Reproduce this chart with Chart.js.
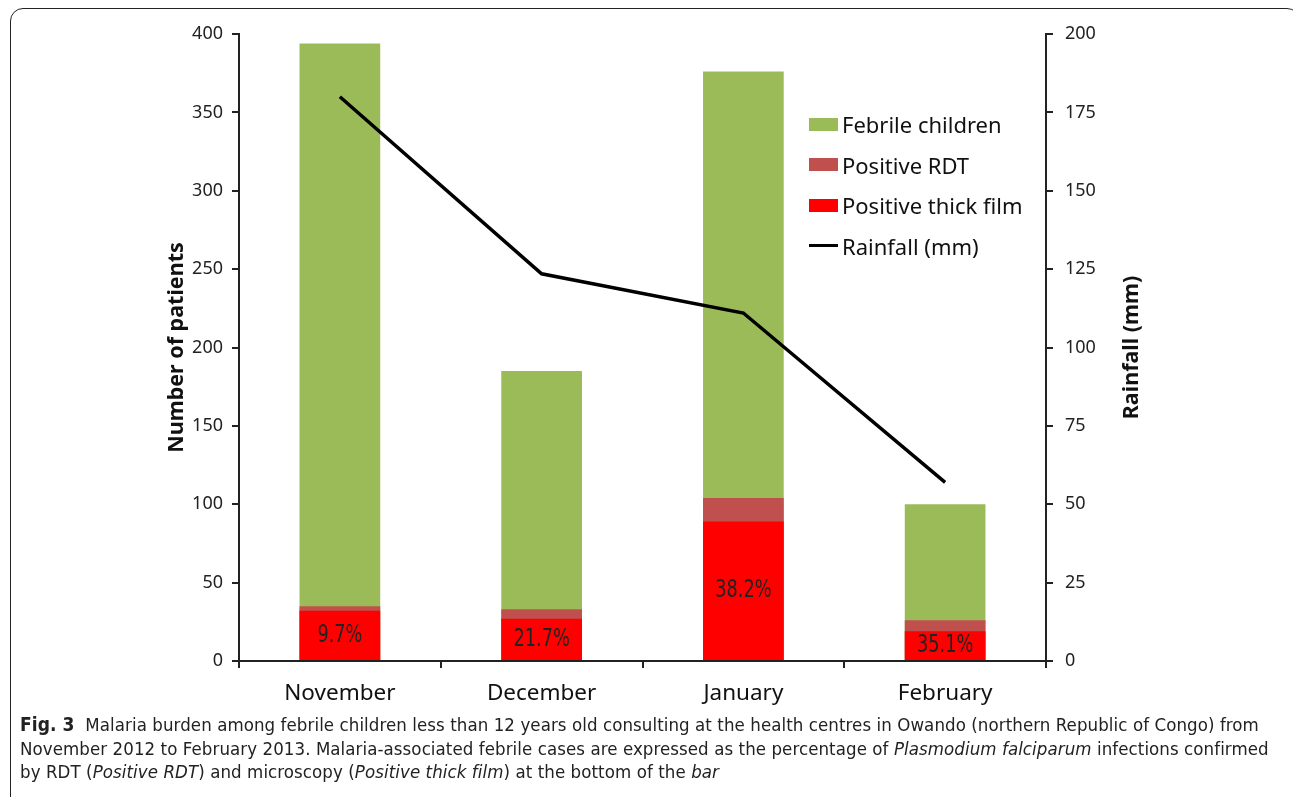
<!DOCTYPE html>
<html lang="en">
<head>
    <meta charset="UTF-8">
    <title>Fig. 3 Malaria burden</title>
    <script src="https://cdn.jsdelivr.net/npm/chart.js"></script>
    <style>
        html, body { margin: 0; padding: 0; background: #fff; }
        body { width: 1293px; height: 797px; position: relative; overflow: hidden; font-family: "Noto Sans", sans-serif; }
        .frame { position: absolute; left: 10px; top: 8px; width: 1290px; height: 820px; border: 1.5px solid #222; border-radius: 13px; box-sizing: border-box; }
        .chart-box { position: absolute; left: 0; top: 0; width: 1293px; height: 715px; }
        .legend { position: absolute; left: 809px; top: 104px; font-size: 22px; color: #111; }
        .legend div { height: 40.5px; line-height: 24px; display: flex; align-items: center; white-space: nowrap; }
        .legend span.sw { display: inline-block; width: 29px; height: 13px; margin-right: 4px; }
        .legend span.ln { display: inline-block; width: 29px; height: 3px; margin-right: 4px; }
        .caption { position: absolute; left: 20px; top: 713px; font-family: "DejaVu Sans Condensed", sans-serif; font-size: 18.5px; letter-spacing: 0.08px; line-height: 23.5px; color: #222; white-space: nowrap; }
        .caption b { font-size: 19px; }
    </style>
</head>
<body>
    <div class="frame"></div>
    <div class="chart-box"><canvas id="chart"></canvas></div>
    <div class="legend" id="legend"></div>
    <div class="caption">
        <b>Fig. 3</b>&nbsp; Malaria burden among febrile children less than 12 years old consulting at the health centres in Owando (northern Republic of Congo) from<br>
        November 2012 to February 2013. Malaria-associated febrile cases are expressed as the percentage of <i>Plasmodium falciparum</i> infections confirmed<br>
        by RDT (<i>Positive RDT</i>) and microscopy (<i>Positive thick film</i>) at the bottom of the <i>bar</i>
    </div>

    <script>
        const months = ['November', 'December', 'January', 'February'];
        const febrile = [394, 185, 376, 100];
        const positiveRdt = [35, 33, 104, 26];
        const positiveThick = [32, 27, 89, 19];
        const rainfall = [180, 123.5, 111, 57];
        const percentLabels = ['9.7%', '21.7%', '38.2%', '35.1%'];
        const leftTicks = [0, 50, 100, 150, 200, 250, 300, 350, 400];
        const rightTicks = [0, 25, 50, 75, 100, 125, 150, 175, 200];

        const tickFont = { family: '"Noto Sans", sans-serif', size: 18 };
        const titleFont = { family: '"Noto Sans", sans-serif', size: 21.5, weight: 'bold' };

        // percentages written in the middle of the thick film bars
        const percentPlugin = {
            id: 'percentPlugin',
            afterDatasetsDraw(chart) {
                const meta = chart.getDatasetMeta(3);
                const ctx = chart.ctx;
                ctx.save();
                ctx.font = '24px "DejaVu Sans Condensed", sans-serif';
                ctx.fillStyle = '#222';
                ctx.textAlign = 'center';
                ctx.textBaseline = 'middle';
                meta.data.forEach((bar, i) => {
                    const mid = (bar.y + bar.base) / 2;
                    ctx.save();
                    ctx.translate(bar.x, mid);
                    ctx.scale(0.82, 1);
                    ctx.fillText(percentLabels[i], 0, 0);
                    ctx.restore();
                });
                ctx.restore();
            }
        };

        // right axis title reads bottom to top, like the left one
        const rightTitlePlugin = {
            id: 'rightTitlePlugin',
            afterDraw(chart) {
                const s = chart.scales.y2;
                const ctx = chart.ctx;
                ctx.save();
                ctx.translate(1132, (s.top + s.bottom) / 2);
                ctx.rotate(-Math.PI / 2);
                ctx.font = 'bold 21.5px "Noto Sans", sans-serif';
                ctx.fillStyle = '#111';
                ctx.textAlign = 'center';
                ctx.textBaseline = 'middle';
                ctx.fillText('Rainfall (mm)', 0, 0);
                ctx.restore();
            }
        };

        const chart = new Chart(document.getElementById('chart'), {
            data: {
                labels: months,
                datasets: [
                    {
                        type: 'line',
                        label: 'Rainfall (mm)',
                        data: rainfall,
                        yAxisID: 'y2',
                        borderColor: '#000',
                        borderWidth: 3.5,
                        pointRadius: 0,
                        tension: 0,
                        order: 0
                    },
                    {
                        type: 'bar',
                        label: 'Febrile children',
                        data: febrile,
                        backgroundColor: '#9BBB59',
                        grouped: false,
                        barPercentage: 0.4,
                        categoryPercentage: 1,
                        order: 3
                    },
                    {
                        type: 'bar',
                        label: 'Positive RDT',
                        data: positiveRdt,
                        backgroundColor: '#C0504D',
                        grouped: false,
                        barPercentage: 0.4,
                        categoryPercentage: 1,
                        order: 2
                    },
                    {
                        type: 'bar',
                        label: 'Positive thick film',
                        data: positiveThick,
                        backgroundColor: '#FF0000',
                        grouped: false,
                        barPercentage: 0.4,
                        categoryPercentage: 1,
                        order: 1
                    }
                ]
            },
            options: {
                responsive: true,
                maintainAspectRatio: false,
                animation: false,
                layout: { padding: { left: 164, right: 147, top: 34, bottom: 0 } },
                plugins: {
                    legend: { display: false },
                    tooltip: { enabled: false }
                },
                scales: {
                    x: {
                        offset: true,
                        grid: { display: true, drawOnChartArea: false, offset: true, tickLength: 7, color: '#222', lineWidth: 2 },
                        border: { color: '#222', width: 2 },
                        ticks: { color: '#111', font: { family: '"Noto Sans", sans-serif', size: 22.5 }, padding: 12 },
                        afterFit(scale) { scale.height = 54; }
                    },
                    y: {
                        position: 'left',
                        min: 0, max: 400,
                        afterBuildTicks(scale) { scale.ticks = leftTicks.map(v => ({ value: v })); },
                        grid: { drawOnChartArea: false, tickLength: 7, color: '#222', lineWidth: 2 },
                        border: { color: '#222', width: 2 },
                        ticks: { color: '#222', font: tickFont, padding: 9 },
                        title: { display: true, text: 'Number of patients', color: '#111', font: titleFont, padding: 0 },
                        afterFit(scale) { scale.width = 75; }
                    },
                    y2: {
                        position: 'right',
                        min: 0, max: 200,
                        afterBuildTicks(scale) { scale.ticks = rightTicks.map(v => ({ value: v })); },
                        grid: { drawOnChartArea: false, tickLength: 7, color: '#222', lineWidth: 2 },
                        border: { color: '#222', width: 2 },
                        ticks: { color: '#222', font: tickFont, padding: 12 },
                        afterFit(scale) { scale.width = 100; }
                    }
                }
            },
            plugins: [percentPlugin, rightTitlePlugin]
        });

        // legend in the order shown on the figure
        const legendOrder = [1, 2, 3, 0];
        const legendEl = document.getElementById('legend');
        legendOrder.forEach(i => {
            const ds = chart.data.datasets[i];
            const row = document.createElement('div');
            if (ds.type === 'line') {
                row.innerHTML = `<span class="ln" style="background:${ds.borderColor}"></span>${ds.label}`;
            } else {
                row.innerHTML = `<span class="sw" style="background:${ds.backgroundColor}"></span>${ds.label}`;
            }
            legendEl.appendChild(row);
        });
    </script>
</body>
</html>
